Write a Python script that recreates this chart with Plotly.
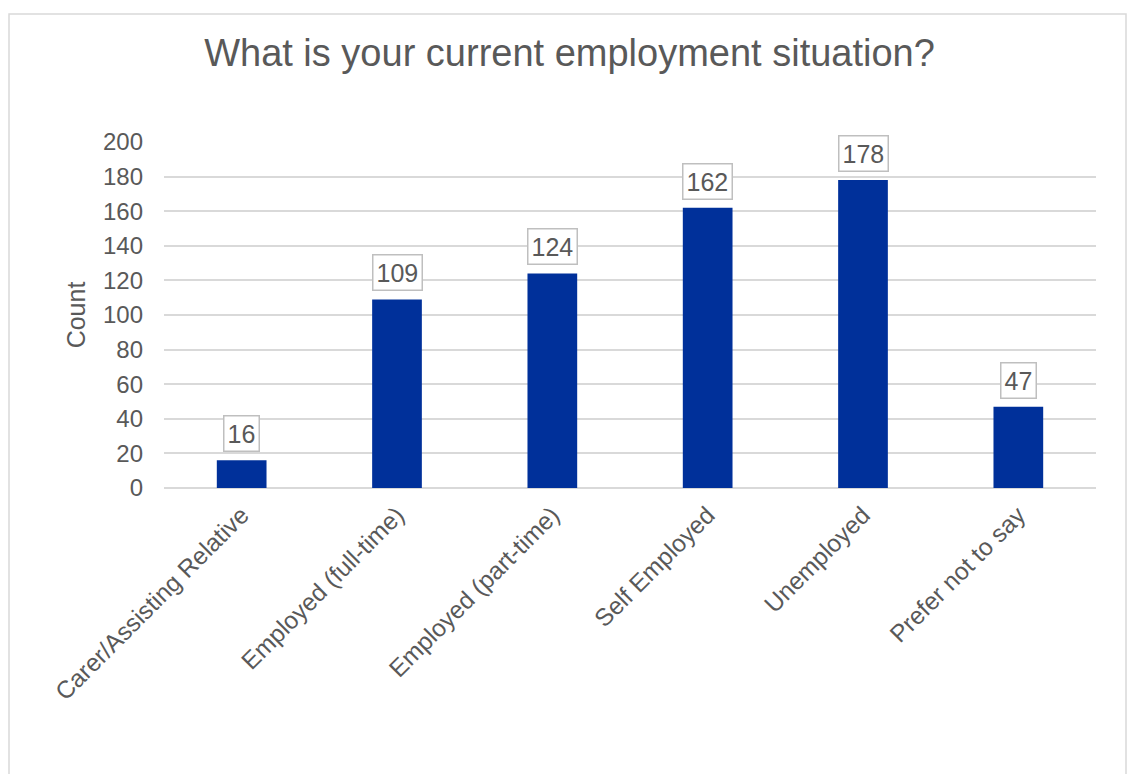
import plotly.graph_objects as go

# Survey responses: current employment situation
categories = [
    "Carer/Assisting Relative",
    "Employed (full-time)",
    "Employed (part-time)",
    "Self Employed",
    "Unemployed",
    "Prefer not to say",
]
counts = [16, 109, 124, 162, 178, 47]
y_ticks = [0, 20, 40, 60, 80, 100, 120, 140, 160, 180, 200]

BAR_COLOR = "#00309A"
TEXT_COLOR = "#595959"
GRID_COLOR = "#D9D9D9"
FONT = "Liberation Sans, Arial, sans-serif"

fig = go.Figure(
    go.Bar(
        x=categories,
        y=counts,
        marker=dict(color=BAR_COLOR, line=dict(width=0)),
        hoverinfo="x+y",
    )
)

# Boxed value labels above each bar
for cat, val in zip(categories, counts):
    fig.add_annotation(
        x=cat, y=val, text=str(val),
        xref="x", yref="y",
        showarrow=False,
        yanchor="bottom", yshift=8,
        font=dict(family=FONT, size=25, color=TEXT_COLOR),
        bgcolor="white",
        bordercolor="#BFBFBF", borderwidth=1.5, borderpad=3,
    )

# Outer chart frame
fig.add_shape(
    type="rect", xref="paper", yref="paper",
    x0=-0.1663, x1=1.0322, y0=-0.9, y1=1.370,
    line=dict(color="#D9D9D9", width=1.5),
    fillcolor="rgba(0,0,0,0)", layer="below",
)

fig.update_layout(
    width=1130, height=774,
    margin=dict(l=164, r=34, t=142, b=286),
    paper_bgcolor="white", plot_bgcolor="white",
    font=dict(family=FONT, color=TEXT_COLOR),
    showlegend=False,
    bargap=0.68,
    title=dict(
        text="What is your current employment situation?",
        x=0.504, xanchor="center", xref="container",
        y=0.932, yanchor="middle", yref="container",
        font=dict(family=FONT, size=38, color=TEXT_COLOR),
    ),
    xaxis=dict(
        tickangle=-45,
        tickfont=dict(family=FONT, size=24.5, color=TEXT_COLOR),
        showgrid=False, showline=False, ticks="",
        ticklabelstandoff=7,
    ),
    yaxis=dict(
        range=[0, 200],
        tickvals=y_ticks,
        tickfont=dict(family=FONT, size=24, color=TEXT_COLOR),
        showgrid=True, gridcolor=GRID_COLOR, gridwidth=1.5,
        zeroline=True, zerolinecolor=GRID_COLOR, zerolinewidth=1.5,
        showline=False, ticks="",
        ticklabelstandoff=20,
        title=dict(text="Count", font=dict(family=FONT, size=25, color=TEXT_COLOR), standoff=10),
    ),
)

fig.write_html("out.html")
